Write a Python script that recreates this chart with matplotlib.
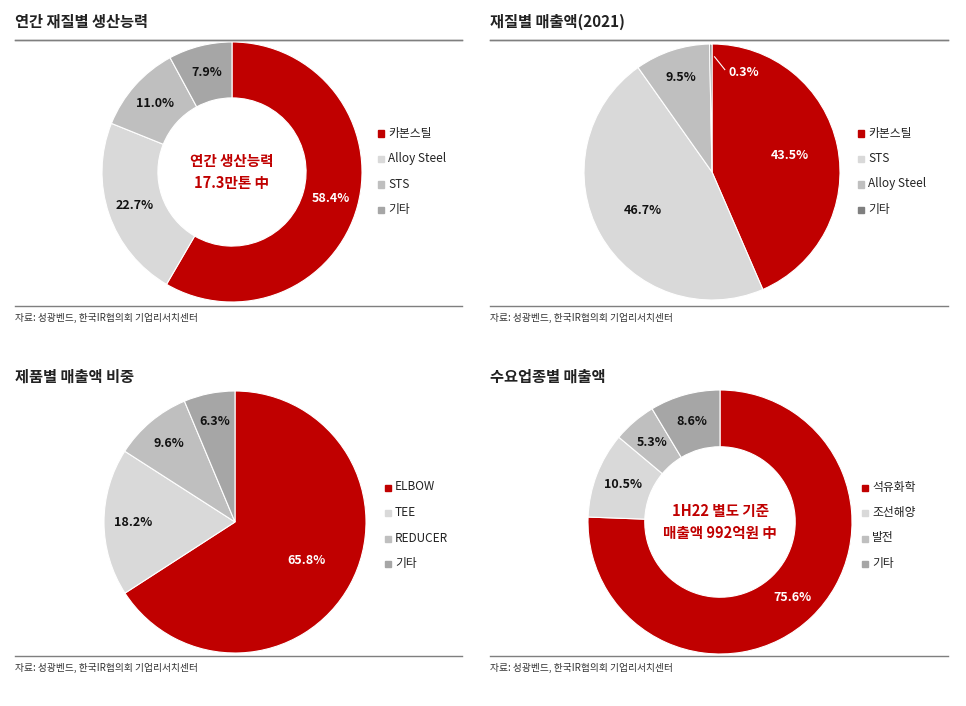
import matplotlib
matplotlib.use("Agg")
import matplotlib.pyplot as plt
from matplotlib.patches import Rectangle

plt.rcParams["font.family"] = "Noto Sans CJK KR"
W, H = 966, 706
fig = plt.figure(figsize=(W/100, H/100), dpi=100)

RED, LIGHT, MID, DARK = "#C00000", "#D9D9D9", "#BFBFBF", "#A6A6A6"

titles = ["연간 재질별 생산능력", "재질별 매출액(2021)", "제품별 매출액 비중", "수요업종별 매출액"]
labels1 = ["카본스틸", "Alloy Steel", "STS", "기타"]
values1 = [58.4, 22.7, 11.0, 7.9]
labels2 = ["카본스틸", "STS", "Alloy Steel", "기타"]
values2 = [43.5, 46.7, 9.5, 0.3]
labels3 = ["ELBOW", "TEE", "REDUCER", "기타"]
values3 = [65.8, 18.2, 9.6, 6.3]
labels4 = ["석유화학", "조선해양", "발전", "기타"]
values4 = [75.6, 10.5, 5.3, 8.6]
source = "자료: 성광벤드, 한국IR협의회 기업리서치센터"

def px(x, y):
    return x / W, 1 - y / H

panels = [
    dict(vals=values1, labs=labels1, colors=[RED, LIGHT, MID, DARK], cx=232, cy=172, r=130,
         donut=True, center="연간 생산능력\n17.3만톤 中", tx=15, ty=22, x1=462, lx=378, ly=133, srcy=318),
    dict(vals=values2, labs=labels2, colors=[RED, LIGHT, MID, "#7F7F7F"], cx=712, cy=172, r=128,
         donut=False, center=None, tx=490, ty=22, x1=948, lx=858, ly=133, srcy=318),
    dict(vals=values3, labs=labels3, colors=[RED, LIGHT, MID, DARK], cx=235, cy=522, r=131,
         donut=False, center=None, tx=15, ty=377, x1=462, lx=385, ly=487, srcy=668),
    dict(vals=values4, labs=labels4, colors=[RED, LIGHT, MID, DARK], cx=720, cy=522, r=132,
         donut=True, center="1H22 별도 기준\n매출액 992억원 中", tx=490, ty=377, x1=948, lx=862, ly=487, srcy=668),
]

import numpy as np
for i, p in enumerate(panels):
    # title and lines
    fig.text(*px(p["tx"], p["ty"]), titles[i], fontsize=11, fontweight="bold", va="center", color="#222222")
    fig.add_artist(plt.Line2D([p["tx"]/W, p["x1"]/W], [1-40/H]*2, color="#7F7F7F", lw=1))
    fig.add_artist(plt.Line2D([p["tx"]/W, p["x1"]/W], [1-(p["srcy"]-12)/H]*2, color="#7F7F7F", lw=1))
    fig.text(*px(p["tx"], p["srcy"]), source, fontsize=7, va="center", color="#333333")

    r = p["r"]
    ax = fig.add_axes([(p["cx"]-r)/W, 1-(p["cy"]+r)/H, 2*r/W, 2*r/H])
    wp = dict(edgecolor="white", linewidth=0.8)
    if p["donut"]:
        wp["width"] = 0.43
    wedges, _ = ax.pie(p["vals"], colors=p["colors"], startangle=90, counterclock=False,
                       wedgeprops=wp, radius=1)
    ax.set_xlim(-1, 1); ax.set_ylim(-1, 1); ax.set_aspect("equal"); ax.axis("off")
    for j, (w, v) in enumerate(zip(wedges, p["vals"])):
        ang = np.deg2rad((w.theta1 + w.theta2) / 2)
        rr = 0.79 if p["donut"] else (0.62 if v > 30 else 0.78)
        x, y = rr*np.cos(ang), rr*np.sin(ang)
        col = "white" if j == 0 else "#111111"
        if v < 1:
            x, y = 0.25, 0.78
            ax.plot([0.02, 0.1], [0.9, 0.8], color="white", lw=0.8)
            col = "white"
        ax.text(x, y, f"{v:.1f}%", ha="center", va="center", fontsize=9, fontweight="bold", color=col)
    if p["center"]:
        ax.text(0, 0, p["center"], ha="center", va="center", fontsize=10.5, fontweight="bold",
                color=RED, linespacing=1.5)
    # legend
    for j, lab in enumerate(p["labs"]):
        yy = p["ly"] + j*25.5
        fig.add_artist(Rectangle(px(p["lx"], yy+3.5), 6/W, 6/H, color=p["colors"][j]))
        fig.text(*px(p["lx"]+10, yy), lab, fontsize=8.5, va="center", color="#222222")

fig.savefig("out.png", dpi=100)
